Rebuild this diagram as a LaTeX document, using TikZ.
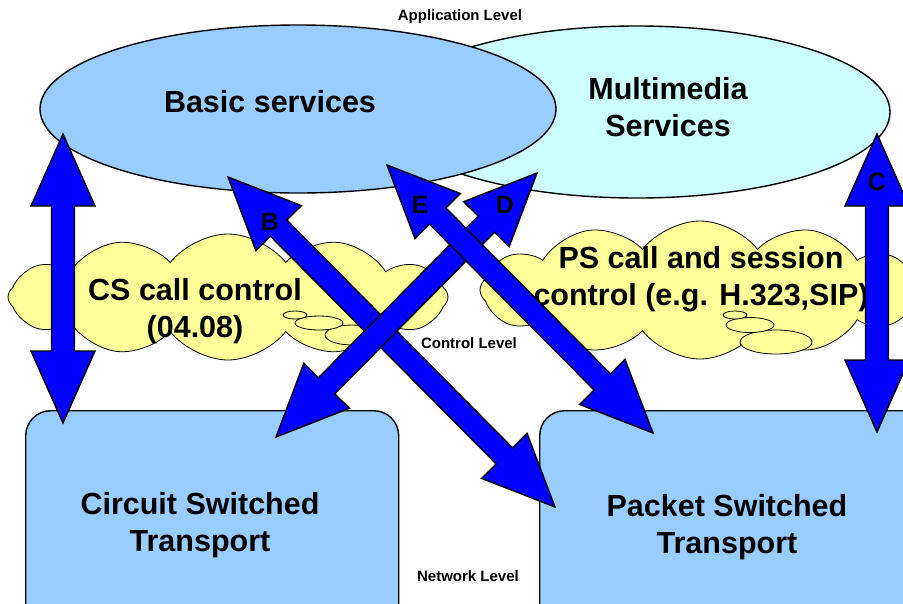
\documentclass[tikz,border=0pt]{standalone}
\usepackage{fontspec}
\setmainfont{Liberation Sans}
\usetikzlibrary{calc,shapes.geometric,shapes.symbols}

\definecolor{basicblue}{HTML}{99CCFF}
\definecolor{mmcyan}{HTML}{CCFFFF}
\definecolor{cloudyellow}{HTML}{FFFF99}
\definecolor{arrowblue}{HTML}{0000FF}

\tikzset{
  bigtext/.style={font=\fontsize{30.5}{37}\selectfont\bfseries, align=center, inner sep=0pt},
  leveltext/.style={font=\fontsize{15}{17}\selectfont\bfseries, inner sep=0pt},
  arrlabel/.style={font=\fontsize{25}{28}\selectfont\bfseries, inner sep=0pt},
  service/.style={ellipse, draw, line width=1.4pt, inner sep=0pt},
  callcloud/.style={cloud, cloud puffs=12, cloud puff arc=105, aspect=3.4,
    draw, line width=0.8pt, fill=cloudyellow, inner sep=0pt},
  bubble/.style={ellipse, draw, line width=0.8pt, fill=cloudyellow, inner sep=0pt},
  netbox/.style={rectangle, rounded corners=25pt, draw, line width=1.4pt,
    fill=basicblue, inner sep=0pt, anchor=north west},
  blockarr/.style={draw=black, line width=1.4pt, fill=arrowblue, line join=miter}
}

% double block arrow from one named tip to the other
\newcommand{\blockarrow}[2]{%
  \coordinate (ha) at ($(#1)!72pt!(#2)$);
  \coordinate (hb) at ($(#2)!72pt!(#1)$);
  \draw [blockarr] (#1)
    -- ($(ha)!32pt!90:(#2)$) -- ($(ha)!11.5pt!90:(#2)$)
    -- ($(hb)!11.5pt!-90:(#1)$) -- ($(hb)!32pt!-90:(#1)$)
    -- (#2)
    -- ($(hb)!32pt!90:(#1)$) -- ($(hb)!11.5pt!90:(#1)$)
    -- ($(ha)!11.5pt!-90:(#2)$) -- ($(ha)!32pt!-90:(#2)$)
    -- cycle;
}

\begin{document}
\begin{tikzpicture}[x=1pt, y=-1pt]
  \clip (0, 0) rectangle (903, 603);

  % Services
  \node (mmedia) [service, fill=mmcyan, minimum width=506pt, minimum height=172pt]
        at (637, 112) {};
  \node (basic) [service, fill=basicblue, minimum width=516pt, minimum height=168pt]
        at (298, 109) {};
  \node (basictxt) [bigtext] at (270, 102) {Basic services};
  \node (mmtxt) [bigtext] at (668, 107) {Multimedia\\Services};

  % Call control
  \node (cscloud) [callcloud, minimum width=440pt, minimum height=126pt] at (228, 297) {};
  \node (csbub3) [bubble, minimum width=54pt, minimum height=20pt] at (352, 335) {};
  \node (csbub2) [bubble, minimum width=48pt, minimum height=14pt] at (319, 323) {};
  \node (csbub1) [bubble, minimum width=24pt, minimum height=8pt] at (295, 315) {};
  \node (cstxt) [bigtext] at (195, 311) {CS call control\\(04.08)};

  \node (pscloud) [callcloud, minimum width=440pt, minimum height=138pt] at (700, 290) {};
  \node (psbub3) [bubble, minimum width=72pt, minimum height=24pt] at (776, 342) {};
  \node (psbub2) [bubble, minimum width=48pt, minimum height=15pt] at (750, 325) {};
  \node (psbub1) [bubble, minimum width=24pt, minimum height=8pt] at (735, 315) {};
  \node (pstxt) [bigtext] at (701, 279) {PS call and session\\control (e.g. H.323,SIP)};

  % Transport
  \node (csnet) [netbox, minimum width=373pt, minimum height=240pt] at (25, 410) {};
  \node (psnet) [netbox, minimum width=400pt, minimum height=240pt] at (539, 410) {};
  \node (csnettxt) [bigtext] at (200, 525) {Circuit Switched\\Transport};
  \node (psnettxt) [bigtext] at (727, 527) {Packet Switched\\Transport};

  % Arrow tips
  \coordinate (atop) at (63, 134);
  \coordinate (abot) at (63, 423);
  \coordinate (ctop) at (877, 134);
  \coordinate (cbot) at (877, 432);
  \coordinate (btop) at (228, 177);
  \coordinate (bbot) at (555, 507);
  \coordinate (dtop) at (537, 173);
  \coordinate (dbot) at (276, 437);
  \coordinate (etop) at (387, 165);
  \coordinate (ebot) at (653, 433);

  % Interfaces
  \blockarrow{atop}{abot}
  \blockarrow{ctop}{cbot}
  \blockarrow{btop}{bbot}
  \blockarrow{dtop}{dbot}
  \blockarrow{etop}{ebot}
  \node (blabel) [arrlabel] at (270, 222) {B};
  \node (clabel) [arrlabel] at (877, 182) {C};
  \node (dlabel) [arrlabel] at (505, 205) {D};
  \node (elabel) [arrlabel] at (420, 205) {E};

  % Levels
  \node (applevel) [leveltext] at (460, 17) {Application Level};
  \node (ctrllevel) [leveltext] at (469, 343) {Control Level};
  \node (netlevel) [leveltext] at (468, 576) {Network Level};
\end{tikzpicture}
\end{document}
